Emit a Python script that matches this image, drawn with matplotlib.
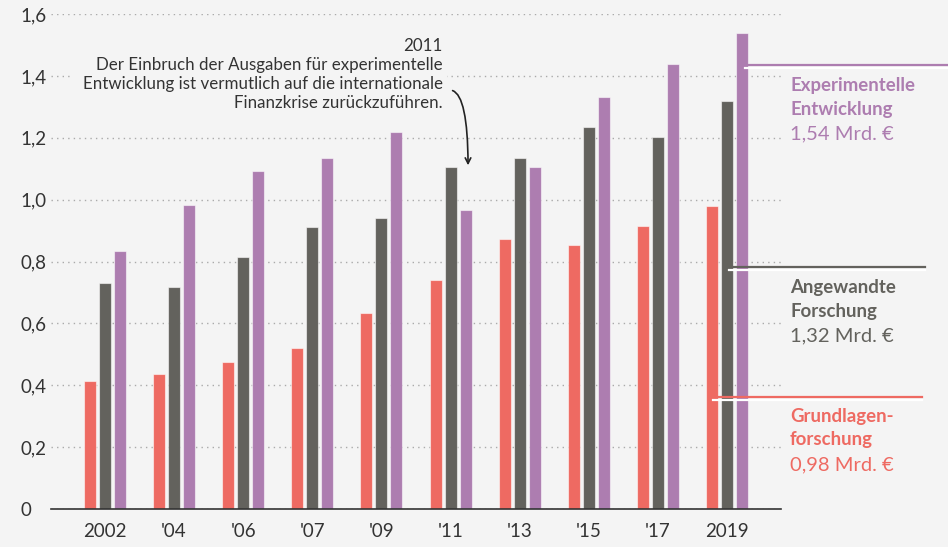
import matplotlib
matplotlib.use("Agg")
import matplotlib.pyplot as plt
import matplotlib.patheffects as pe
from matplotlib.patches import Rectangle
import numpy as np

plt.rcParams['font.family'] = ['Lato', 'DejaVu Sans']

years = ["2002", "'04", "'06", "'07", "'09", "'11", "'13", "'15", "'17", "2019"]
grundlagen = [0.413, 0.435, 0.474, 0.519, 0.632, 0.739, 0.874, 0.852, 0.916, 0.98]
angewandte = [0.732, 0.719, 0.813, 0.910, 0.939, 1.106, 1.135, 1.235, 1.203, 1.32]
experimentell = [0.835, 0.984, 1.094, 1.135, 1.219, 0.968, 1.106, 1.332, 1.439, 1.54]
yticks = [0, 0.2, 0.4, 0.6, 0.8, 1.0, 1.2, 1.4, 1.6]
ytick_labels = ["0", "0,2", "0,4", "0,6", "0,8", "1,0", "1,2", "1,4", "1,6"]

BG = "#F4F4F4"
RED = "#EE6A62"
GREY = "#63625D"
PURPLE = "#AD7DB0"
TXT = "#333333"

W, H = 948, 547
fig = plt.figure(figsize=(W / 100, H / 100), dpi=100, facecolor=BG)
ax = fig.add_axes([51 / W, 1 - 509 / H, (781 - 51) / W, (509 - 14) / H])
ax.set_facecolor(BG)

x = np.arange(len(years))
bw = 0.174
off = 0.217
ec = (1, 1, 1, 0.55)
ax.bar(x - off, grundlagen, bw, color=RED, edgecolor=ec, linewidth=0.8, zorder=3)
ax.bar(x, angewandte, bw, color=GREY, edgecolor=ec, linewidth=0.8, zorder=3)
ax.bar(x + off, experimentell, bw, color=PURPLE, edgecolor=ec, linewidth=0.8, zorder=3)

ax.set_xlim(-0.78, 9.78)
ax.set_ylim(0, 1.6)
ax.set_yticks(yticks)
ax.set_yticklabels(ytick_labels)
ax.set_xticks(x)
ax.set_xticklabels(years)
for sp in ["top", "right", "left"]:
    ax.spines[sp].set_visible(False)
ax.spines["bottom"].set_color("#333333")
ax.spines["bottom"].set_linewidth(1.2)
ax.spines["bottom"].set_zorder(4)
ax.tick_params(axis="both", length=0, labelsize=13.5, colors=TXT)
ax.tick_params(axis="x", pad=10)
ax.tick_params(axis="y", pad=22.3)
for lab in ax.get_yticklabels():
    lab.set_horizontalalignment("left")
ax.grid(axis="y", linestyle=(0, (1, 3)), color="#AAAAAA", linewidth=1, zorder=0)
ax.set_axisbelow(True)

# background patch behind the annotation text (hides grid line)
fig.add_artist(Rectangle((72 / W, 1 - 113 / H), (447 - 72) / W, (113 - 34) / H,
                         transform=fig.transFigure, facecolor=BG, edgecolor="none", zorder=2))

# annotation arrow
ax.annotate("", xy=(5.253, 1.102), xytext=(4.99, 1.354),
            arrowprops=dict(arrowstyle="->", color="#222222", lw=1.2,
                            connectionstyle="angle3,angleA=0,angleB=90"), zorder=6)
ann_lines = ["2011",
             "Der Einbruch der Ausgaben für experimentelle",
             "Entwicklung ist vermutlich auf die internationale",
             "Finanzkrise zurückzuführen."]
for i, s in enumerate(ann_lines):
    fig.text(443 / W, 1 - (51 + 19 * i) / H, s, ha="right", va="baseline",
             fontsize=12.2, color=TXT, zorder=5)

# legend lines and labels
def leg_line(y, x0, x1, color):
    yf = 1 - y / H
    l = plt.Line2D([x0 / W, x1 / W], [yf, yf], transform=fig.transFigure,
                   color=color, lw=1.6, zorder=10,
                   path_effects=[pe.SimpleLineShadow(offset=(0, -1.8), shadow_color="white", alpha=1), pe.Normal()])
    fig.add_artist(l)

leg_line(65, 745, 948, PURPLE)
leg_line(267, 729, 925, GREY)
leg_line(397, 713, 922, RED)

def leg_text(baselines, lines, value, color):
    for b, s in zip(baselines[:-1], lines):
        fig.text(790 / W, 1 - b / H, s, ha="left", va="baseline", fontsize=13.4,
                 fontweight="bold", color=color)
    fig.text(790 / W, 1 - baselines[-1] / H, value, ha="left", va="baseline",
             fontsize=14.5, color=color)

leg_text([91, 115, 139], ["Experimentelle", "Entwicklung"], "1,54 Mrd. €", PURPLE)
leg_text([293, 317, 341], ["Angewandte", "Forschung"], "1,32 Mrd. €", GREY)
leg_text([422, 445, 470], ["Grundlagen-", "forschung"], "0,98 Mrd. €", RED)

fig.savefig("out.png", dpi=100, facecolor=BG)
